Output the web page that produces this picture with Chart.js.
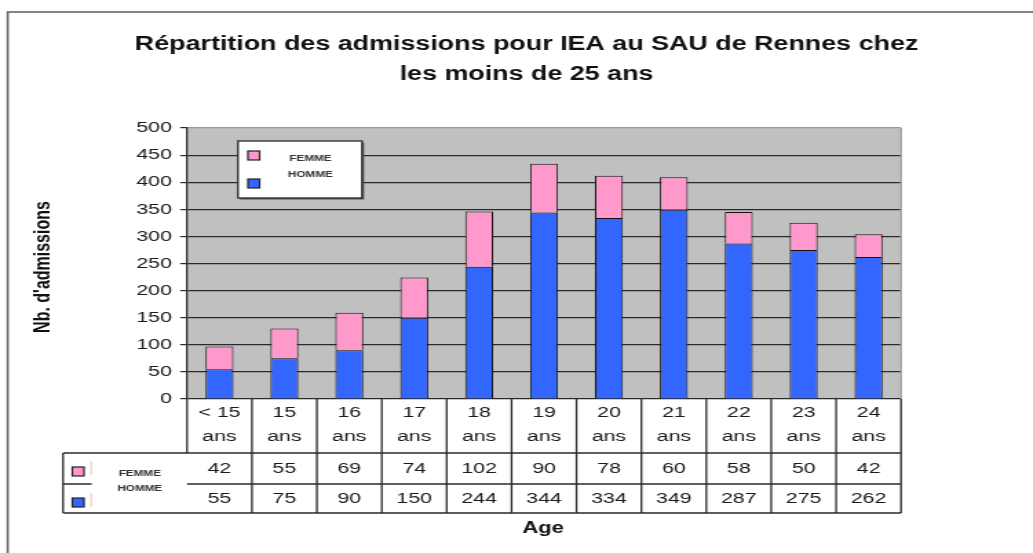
<!DOCTYPE html>
<html lang="fr">
<head>
<meta charset="UTF-8">
<title>Répartition des admissions pour IEA au SAU de Rennes</title>
<script src="https://cdn.jsdelivr.net/npm/chart.js"></script>
<style>
  body { margin: 0; background: #fff; overflow: hidden; }
  /* the reference is stretched horizontally, so the chart is drawn narrow and widened */
  .wrap { width: 750px; height: 553px; transform: scaleX(1.3773); transform-origin: 0 0; }
</style>
</head>
<body>
<div class="wrap"><canvas id="chart" width="750" height="553"></canvas></div>
<script>
const categories = [["< 15", "ans"], ["15", "ans"], ["16", "ans"], ["17", "ans"], ["18", "ans"], ["19", "ans"],
                    ["20", "ans"], ["21", "ans"], ["22", "ans"], ["23", "ans"], ["24", "ans"]];
const homme = [55, 75, 90, 150, 244, 344, 334, 349, 287, 275, 262];
const femme = [42, 55, 69, 74, 102, 90, 78, 60, 58, 50, 42];
const yMax = 500;
const yStep = 50;
const titleLines = ["Répartition des admissions pour IEA au SAU de Rennes chez", "les moins de 25 ans"];

const FONT = "Arial, 'Liberation Sans', sans-serif";
const BLUE = "#3366ff";
const PINK = "#ff99cc";
const LINE = "#2a2a2a";

const decor = {
  id: "decor",
  beforeDraw(chart) {
    const { ctx, chartArea: a } = chart;
    ctx.save();
    ctx.fillStyle = "#fff";
    ctx.fillRect(0, 0, chart.width, chart.height);
    ctx.fillStyle = "#c0c0c0";
    ctx.fillRect(a.left, a.top, a.right - a.left, a.bottom - a.top);
    ctx.restore();
  },
  afterDraw(chart) {
    const { ctx, chartArea: a } = chart;
    const x = chart.scales.x;
    ctx.save();

    // outer frame
    ctx.strokeStyle = "#666";
    ctx.lineWidth = 1.6;
    ctx.strokeRect(5.6, 12, chart.width + 20, chart.height + 20);

    // plot right border
    ctx.strokeStyle = "#999";
    ctx.lineWidth = 1.2;
    ctx.beginPath();
    ctx.moveTo(a.right, a.top);
    ctx.lineTo(a.right, a.bottom);
    ctx.stroke();

    // title
    ctx.fillStyle = "#111";
    ctx.font = "bold 19.5px " + FONT;
    ctx.textAlign = "center";
    ctx.textBaseline = "alphabetic";
    ctx.fillText(titleLines[0], 382.3, 50);
    ctx.fillText(titleLines[1], 382.3, 80);

    // y axis title
    ctx.save();
    ctx.translate(32, 267);
    ctx.rotate(-Math.PI / 2);
    ctx.font = "bold 16px " + FONT;
    ctx.textBaseline = "middle";
    ctx.fillText("Nb. d'admissions", 0, 0);
    ctx.restore();

    // legend box
    const lx = 172.8, ly = 141, lw = 90, lh = 57;
    ctx.fillStyle = "#555";
    ctx.fillRect(lx + 1.5, ly + 1.5, lw, lh);
    ctx.fillStyle = "#fff";
    ctx.fillRect(lx, ly, lw, lh);
    ctx.strokeStyle = LINE;
    ctx.lineWidth = 1.3;
    ctx.strokeRect(lx, ly, lw, lh);
    const swatch = (sx, sy, c) => {
      ctx.fillStyle = c;
      ctx.fillRect(sx, sy, 8.5, 9);
      ctx.strokeStyle = "#222";
      ctx.lineWidth = 1.2;
      ctx.strokeRect(sx, sy, 8.5, 9);
    };
    swatch(180, 151, PINK);
    swatch(180, 179, BLUE);
    ctx.fillStyle = "#333";
    ctx.font = "bold 8.5px " + FONT;
    ctx.textAlign = "center";
    ctx.textBaseline = "middle";
    ctx.fillText(chart.data.datasets[1].label, 225.4, 159);
    ctx.fillText(chart.data.datasets[0].label, 225.4, 175);

    // data table
    const n = categories.length;
    const colW = x.getPixelForValue(1) - x.getPixelForValue(0);
    const edges = [];
    for (let i = 0; i <= n; i++) edges.push(x.getPixelForValue(0) - colW / 2 + i * colW);
    const y0 = a.bottom, y1 = y0 + 54, y2 = y1 + 31, y3 = y2 + 29;
    const tl = 45.8;
    const right = edges[n];

    ctx.strokeStyle = LINE;
    ctx.lineWidth = 1.3;
    ctx.beginPath();
    for (let i = 1; i <= n; i++) {
      ctx.moveTo(edges[i], y0);
      ctx.lineTo(edges[i], y3);
    }
    ctx.moveTo(edges[0], y0);
    ctx.lineTo(edges[0], y1);
    ctx.moveTo(tl, y1); ctx.lineTo(right, y1);
    ctx.moveTo(tl, y2); ctx.lineTo(66.5, y2);
    ctx.moveTo(edges[0], y2); ctx.lineTo(right, y2);
    ctx.moveTo(tl, y3); ctx.lineTo(right, y3);
    ctx.moveTo(tl, y1); ctx.lineTo(tl, y3);
    ctx.stroke();

    swatch(52.5, y1 + 14, PINK);
    swatch(52.5, y2 + 14, BLUE);
    ctx.strokeStyle = "#e6cba8";
    ctx.lineWidth = 1;
    ctx.beginPath();
    ctx.moveTo(66.2, y1 + 8); ctx.lineTo(66.2, y1 + 22);
    ctx.moveTo(66.2, y2 + 9); ctx.lineTo(66.2, y2 + 23);
    ctx.stroke();

    ctx.fillStyle = "#333";
    ctx.font = "bold 8.5px " + FONT;
    ctx.fillText(chart.data.datasets[1].label, 101.5, y1 + 21);
    ctx.fillText(chart.data.datasets[0].label, 101.5, y1 + 36);

    ctx.fillStyle = "#1a1a1a";
    ctx.font = "15.5px " + FONT;
    for (let i = 0; i < n; i++) {
      const cx = x.getPixelForValue(i);
      ctx.fillText(categories[i][0], cx, y0 + 14);
      ctx.fillText(categories[i][1], cx, y0 + 38);
      ctx.fillText(String(femme[i]), cx, y1 + 16);
      ctx.fillText(String(homme[i]), cx, y2 + 15);
    }

    // x axis title
    ctx.font = "bold 16px " + FONT;
    ctx.fillStyle = "#111";
    ctx.fillText("Age", 394.3, 529);

    ctx.restore();
  }
};

new Chart(document.getElementById("chart"), {
  type: "bar",
  data: {
    labels: categories.map(c => c.join(" ")),
    datasets: [
      { label: "HOMME", data: homme, backgroundColor: BLUE, borderColor: "#111", borderWidth: 1 },
      { label: "FEMME", data: femme, backgroundColor: PINK, borderColor: "#111", borderWidth: 1 }
    ]
  },
  options: {
    responsive: false,
    animation: false,
    events: [],
    layout: { padding: { top: 128, right: 95.8, bottom: 154, left: 0 } },
    plugins: { legend: { display: false }, title: { display: false }, tooltip: { enabled: false } },
    datasets: { bar: { barPercentage: 0.43, categoryPercentage: 1 } },
    scales: {
      x: { stacked: true, display: false },
      y: {
        stacked: true,
        min: 0,
        max: yMax,
        afterFit: s => { s.width = 135.8; },
        border: { display: true, color: LINE, width: 1.3 },
        grid: {
          color: c => c.tick && c.tick.value === yMax ? "#999" : LINE,
          tickColor: LINE,
          lineWidth: 1.2,
          tickLength: 5
        },
        ticks: { stepSize: yStep, padding: 6, color: "#1a1a1a", font: { family: FONT, size: 15.5 } }
      }
    }
  },
  plugins: [decor]
});
</script>
</body>
</html>
